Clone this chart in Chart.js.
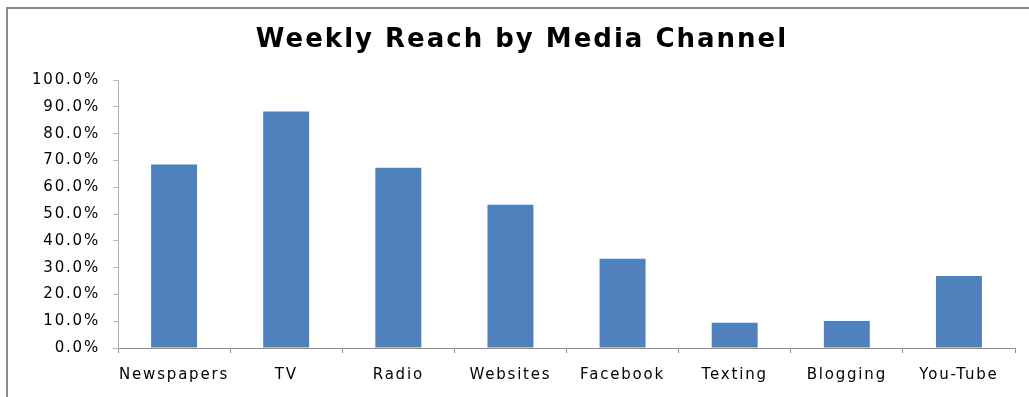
<!DOCTYPE html>
<html>
<head>
<meta charset="utf-8">
<script src="https://cdn.jsdelivr.net/npm/chart.js"></script>
<style>
  body { margin: 0; background: #fff; }
  #wrap { position: relative; width: 1029px; height: 397px; overflow: hidden; }
  #frame { position: absolute; left: 6px; top: 7px; width: 1100px; height: 500px;
           border-left: 2px solid #8a8a8a; border-top: 2px solid #8a8a8a; }
  canvas { position: absolute; left: 0; top: 0; }
</style>
</head>
<body>
<div id="wrap">
  <div id="frame"></div>
  <canvas id="myChart" width="1029" height="397"></canvas>
</div>
<script>
// chart data
var channels = ['Newspapers', 'TV', 'Radio', 'Websites', 'Facebook', 'Texting', 'Blogging', 'You-Tube']
var reach = [68.5, 88.3, 67.3, 53.5, 33.3, 9.4, 10.1, 26.9]
var y_ticks = [0, 10, 20, 30, 40, 50, 60, 70, 80, 90, 100]

// the picture has wide, spaced out text, so add some letter spacing
var spacing = {
  id: 'spacing',
  beforeDraw: function (chart) { chart.ctx.letterSpacing = '2px' },
  beforeDatasetsDraw: function (chart) { chart.ctx.letterSpacing = '1.8px' },
  afterDraw: function (chart) { chart.ctx.letterSpacing = '0px' }
}

const ctx = document.getElementById('myChart');

new Chart(ctx, {
  type: 'bar',
  data: {
    labels: channels,
    datasets: [{
      label: 'Weekly Reach',
      data: reach,
      backgroundColor: '#4F81BD',
      borderWidth: 0,
      categoryPercentage: 1,
      barPercentage: 0.41
    }]
  },
  options: {
    responsive: false,
    animation: false,
    layout: { padding: { left: 29, right: 14, top: 0, bottom: 0 } },
    plugins: {
      legend: { display: false },
      tooltip: { enabled: false },
      title: {
        display: true,
        text: 'Weekly Reach by Media Channel',
        color: '#000',
        font: { family: 'DejaVu Sans', size: 26, weight: 'bold', lineHeight: 1.2 },
        padding: { top: 25, bottom: 24 }
      }
    },
    scales: {
      x: {
        afterFit: function (scale) { scale.height = 49 },
        grid: { display: true, drawOnChartArea: false, offset: true, tickLength: 5, color: '#8c8c8c' },
        border: { display: true, color: '#8c8c8c', width: 1 },
        ticks: {
          z: 1,
          color: '#000',
          padding: 13,
          maxRotation: 0,
          minRotation: 0,
          autoSkip: false,
          font: { family: 'DejaVu Sans', size: 15 }
        }
      },
      y: {
        min: 0,
        max: 100,
        afterFit: function (scale) { scale.width = 89 },
        afterBuildTicks: function (scale) {
          scale.ticks = y_ticks.map(function (v) { return { value: v } })
        },
        grid: { display: true, drawOnChartArea: false, tickLength: 5, color: '#b4b4b4' },
        border: { display: true, color: '#b4b4b4', width: 1 },
        ticks: {
          z: 1,
          color: '#000',
          padding: 13,
          font: { family: 'DejaVu Sans', size: 15 },
          callback: function (value) { return value.toFixed(1) + '%' }
        }
      }
    }
  },
  plugins: [spacing]
});
</script>
</body>
</html>
